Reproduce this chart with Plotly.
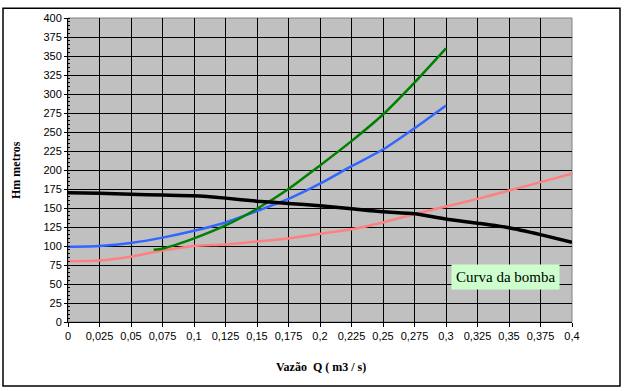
import plotly.graph_objects as go

q_full = [0, 0.025, 0.05, 0.075, 0.1, 0.125, 0.15, 0.175, 0.2, 0.225, 0.25, 0.275, 0.3, 0.325, 0.35, 0.375, 0.4]
h_bomba = [170, 169.5, 168, 167, 166, 163, 159, 156, 153, 149, 145, 142.5, 135.5, 130, 124, 115, 105]
h_rosa = [80, 81, 86, 94, 100, 102, 106, 110, 116, 122, 131, 142, 152, 162, 173, 184, 195]

q_azul = [0, 0.025, 0.05, 0.075, 0.1, 0.125, 0.15, 0.175, 0.2, 0.225, 0.25, 0.275, 0.3]
h_azul = [99, 100, 104, 111, 120, 131, 146, 162, 182, 205, 227, 255, 285]

q_verde = [0.068, 0.075, 0.1, 0.125, 0.15, 0.175, 0.2, 0.225, 0.25, 0.275, 0.3]
h_verde = [95, 96.5, 110, 127, 149, 175, 206, 238, 273, 315, 360]

x_ticks = [0, 0.025, 0.05, 0.075, 0.1, 0.125, 0.15, 0.175, 0.2, 0.225, 0.25, 0.275, 0.3, 0.325, 0.35, 0.375, 0.4]
x_labels = ["0", "0,025", "0,05", "0,075", "0,1", "0,125", "0,15", "0,175", "0,2", "0,225", "0,25", "0,275", "0,3", "0,325", "0,35", "0,375", "0,4"]
y_ticks = list(range(0, 401, 25))
y_labels = [str(v) for v in y_ticks]

fig = go.Figure()
fig.add_trace(go.Scatter(x=q_full, y=h_rosa, mode="lines", line=dict(color="#FF8080", width=2.5, shape="spline", smoothing=0.6)))
fig.add_trace(go.Scatter(x=q_azul, y=h_azul, mode="lines", line=dict(color="#3366FF", width=2.5, shape="spline", smoothing=0.6)))
fig.add_trace(go.Scatter(x=q_verde, y=h_verde, mode="lines", line=dict(color="#008000", width=2.5, shape="spline", smoothing=0.6)))
fig.add_trace(go.Scatter(x=q_full, y=h_bomba, mode="lines", line=dict(color="#000000", width=3.5, shape="spline", smoothing=0.6)))

font_sans = "Liberation Sans, Arial, sans-serif"
font_serif = "Liberation Serif, Times New Roman, serif"

fig.update_layout(
    width=625, height=391,
    margin=dict(l=68, r=53, t=13, b=69),
    paper_bgcolor="white",
    plot_bgcolor="#C0C0C0",
    showlegend=False,
    font=dict(family=font_sans, size=11, color="black"),
    xaxis=dict(range=[0, 0.4], tickvals=x_ticks, ticktext=x_labels, showgrid=True,
               gridcolor="black", gridwidth=1, zeroline=False, showline=True,
               linecolor="black", linewidth=1, ticks="outside", ticklen=4,
               tickcolor="black", mirror=False, tickfont=dict(family=font_sans, size=11)),
    yaxis=dict(range=[0, 400], tickvals=y_ticks, ticktext=y_labels, showgrid=True,
               gridcolor="black", gridwidth=1, zeroline=False, showline=True,
               linecolor="black", linewidth=1, ticks="outside", ticklen=3,
               tickcolor="black", tickfont=dict(family=font_sans, size=11),
               minor=dict(ticks="inside", ticklen=2, dtick=5, tickcolor="black", showgrid=False)),
)

fig.add_shape(type="rect", xref="paper", yref="paper", x0=0, x1=1, y0=0, y1=1,
              line=dict(color="#808080", width=1), layer="below")
fig.add_shape(type="rect", xref="paper", yref="paper",
              x0=-65/504, x1=552/504, y0=-65/309, y1=319/309,
              line=dict(color="black", width=1.5))

fig.add_annotation(x=0.3475, y=59, xref="x", yref="y", text="Curva da bomba",
                   xanchor="center", yanchor="middle",
                   showarrow=False, bgcolor="#CCFFCC", borderpad=4,
                   font=dict(family=font_serif, size=15, color="black"))
fig.add_annotation(x=(16-68)/504, y=0.5, xref="paper", yref="paper", text="<b>Hm metros</b>",
                   xanchor="center", yanchor="middle",
                   textangle=-90, showarrow=False,
                   font=dict(family=font_serif, size=12, color="black"))
fig.add_annotation(x=(321-68)/504, y=(322-368)/309, xref="paper", yref="paper",
                   xanchor="center", yanchor="middle",
                   text="<b>Vazão  Q ( m3 / s)</b>", showarrow=False,
                   font=dict(family=font_serif, size=12, color="black"))

fig.write_html("out.html", config={"displayModeBar": False},
               post_script="document.body.style.margin='0';document.body.style.overflow='hidden';")
